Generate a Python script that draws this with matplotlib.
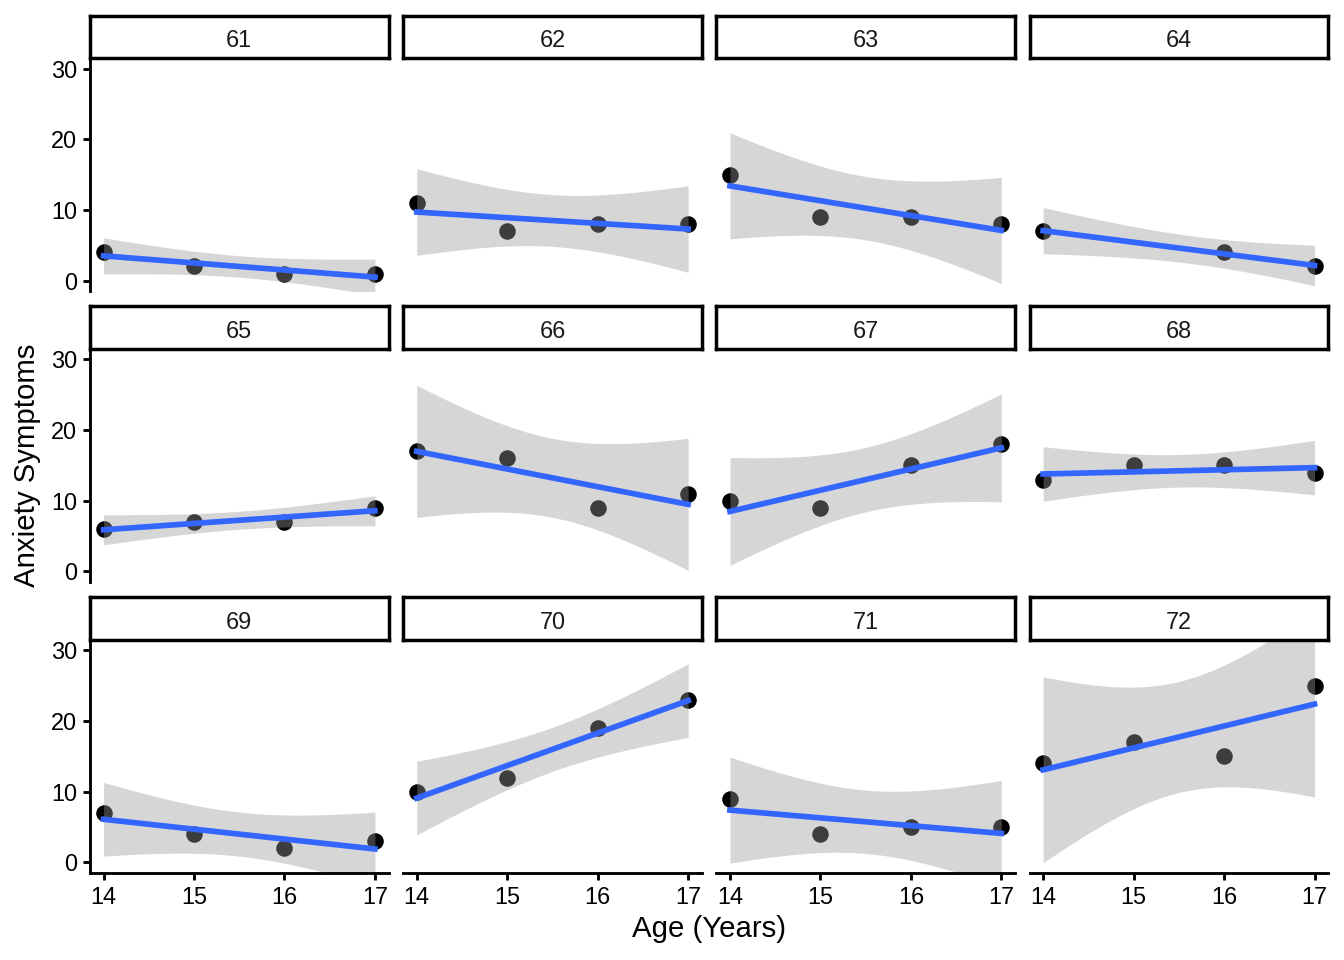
import numpy as np
import matplotlib
matplotlib.use("Agg")
import matplotlib.pyplot as plt

plt.rcParams['font.family'] = ['Liberation Sans', 'DejaVu Sans']

# data (one list per participant, ages 14-17)
ages = [14, 15, 16, 17]
ids = [61, 62, 63, 64, 65, 66, 67, 68, 69, 70, 71, 72]
anx_61 = [4, 2, 1, 1]
anx_62 = [11, 7, 8, 8]
anx_63 = [15, 9, 9, 8]
anx_64 = [7, np.nan, 4, 2]
anx_65 = [6, 7, 7, 9]
anx_66 = [17, 16, 9, 11]
anx_67 = [10, 9, 15, 18]
anx_68 = [13, 15, 15, 14]
anx_69 = [7, 4, 2, 3]
anx_70 = [10, 12, 19, 23]
anx_71 = [9, 4, 5, 5]
anx_72 = [14, 17, 15, 25]
yticks = [0, 10, 20, 30]

series = dict(zip(ids, [anx_61, anx_62, anx_63, anx_64, anx_65, anx_66,
                        anx_67, anx_68, anx_69, anx_70, anx_71, anx_72]))

# 97.5% t quantiles for the df we need
T975 = {1: 12.7062, 2: 4.3027}


def lm_band(x, y, n=80):
    xs = np.linspace(x.min(), x.max(), n)
    slope, icpt = np.polyfit(x, y, 1)
    fit = icpt + slope * xs
    resid = y - (icpt + slope * x)
    df = len(x) - 2
    s = np.sqrt(np.sum(resid ** 2) / df)
    se = s * np.sqrt(1 / len(x) + (xs - x.mean()) ** 2 / np.sum((x - x.mean()) ** 2))
    t = T975[df]
    return xs, fit, fit - t * se, fit + t * se


W, H = 1344, 960
fig = plt.figure(figsize=(7, 5), dpi=192)


def rect(x, y, w, h):
    return [x / W, 1 - (y + h) / H, w / W, h / H]


col_w, gap = 298.5, 14.7
strip_h, panel_h = 43, 233.2
lw_axis = 1.07

for i, pid in enumerate(ids):
    r, c = divmod(i, 4)
    px = 90 + c * (col_w + gap)
    sy = 15 + r * (strip_h + panel_h + gap)
    py = sy + strip_h

    ax = fig.add_axes(rect(px, py, col_w, panel_h))
    x = np.array(ages, dtype=float)
    y = np.array(series[pid], dtype=float)
    ok = ~np.isnan(y)
    x, y = x[ok], y[ok]

    ax.plot(x, y, 'o', color='black', markersize=5.2, zorder=1)
    xs, fit, lo, hi = lm_band(x, y)
    ax.fill_between(xs, lo, hi, color='#999999', alpha=0.4, linewidth=0, zorder=2)
    ax.plot(xs, fit, color='#3366FF', linewidth=2.13, zorder=3)

    ax.set_xlim(13.85, 17.15)
    ax.set_ylim(-1.5, 31.5)
    for side in ['top', 'right']:
        ax.spines[side].set_visible(False)
    ax.spines['left'].set_visible(c == 0)
    ax.spines['bottom'].set_visible(r == 2)
    for side in ['left', 'bottom']:
        ax.spines[side].set_linewidth(lw_axis)
    ax.tick_params(width=lw_axis, length=2.75, pad=2.2, labelsize=8.8,
                   labelcolor='black', color='black')
    if c == 0:
        ax.set_yticks(yticks)
    else:
        ax.set_yticks([])
    if r == 2:
        ax.set_xticks(ages)
    else:
        ax.set_xticks([])

    sax = fig.add_axes(rect(px, sy + 0.5, col_w, strip_h - 0.5))
    sax.set_xticks([])
    sax.set_yticks([])
    for sp in sax.spines.values():
        sp.set_linewidth(1.3)
        sp.set_color('black')
    sax.text(0.5, 0.47, str(pid), ha='center', va='center_baseline', fontsize=8.8,
             color='#1A1A1A', transform=sax.transAxes)

fig.text(27 / W, 1 - 465.5 / H, 'Anxiety Symptoms', rotation=90,
         ha='center', va='center', fontsize=11)
fig.text(709 / W, 1 - 929 / H, 'Age (Years)', ha='center', va='center',
         fontsize=11)

fig.savefig('out.png', dpi=192, facecolor='white')
